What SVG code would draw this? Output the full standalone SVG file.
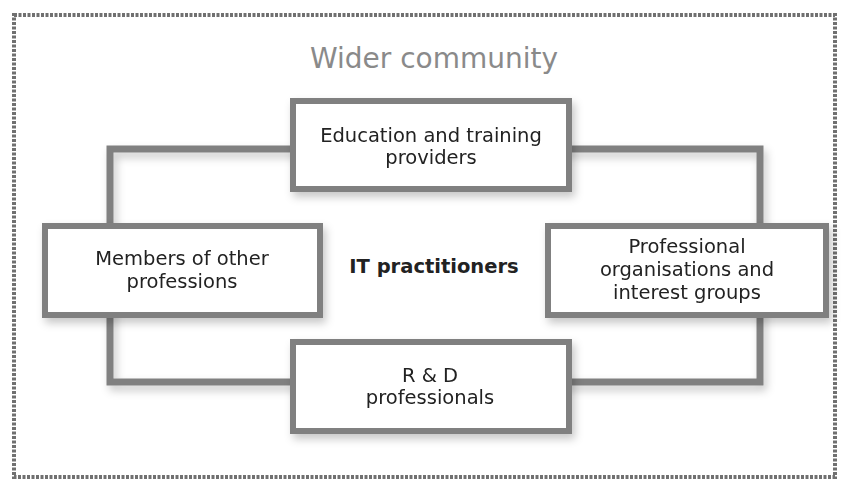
<svg xmlns="http://www.w3.org/2000/svg" width="847" height="495" viewBox="0 0 847 495">
  <defs>
    <filter id="shadow" x="-10%" y="-20%" width="125%" height="150%">
      <feDropShadow dx="3" dy="5" stdDeviation="4" flood-color="#000" flood-opacity="0.22"/>
    </filter>
  </defs>
  <style>
    .frame { fill: none; stroke: #707070; stroke-width: 4; stroke-dasharray: 3 1.5; }
    .link { fill: none; stroke: #808080; stroke-width: 7; }
    .box { fill: #fff; stroke: #808080; stroke-width: 6; }
    .label { font-family: "DejaVu Sans", "Liberation Sans", sans-serif; font-size: 19.5px; fill: #222; text-anchor: middle; }
    .title { font-family: "DejaVu Sans", "Liberation Sans", sans-serif; font-size: 28px; fill: #8a8a8a; text-anchor: middle; }
    .centre { font-family: "DejaVu Sans", "Liberation Sans", sans-serif; font-size: 19.5px; font-weight: bold; fill: #222; text-anchor: middle; }
  </style>

  <rect width="847" height="495" fill="#fff"/>

  <!-- community boundary -->
  <rect class="frame" x="14" y="15" width="821" height="462"/>
  <text class="title" x="434" y="68">Wider community</text>

  <!-- ring linking the four groups -->
  <g id="connectors" filter="url(#shadow)">
    <rect class="link" x="110" y="149" width="650" height="233"/>
  </g>

  <g id="education" filter="url(#shadow)">
    <rect class="box" x="293" y="101" width="276" height="88"/>
    <text class="label" x="431" y="142">Education and training</text>
    <text class="label" x="431" y="164">providers</text>
  </g>

  <g id="other-professions" filter="url(#shadow)">
    <rect class="box" x="45" y="226" width="275" height="89"/>
    <text class="label" x="182" y="265">Members of other</text>
    <text class="label" x="182" y="288">professions</text>
  </g>

  <g id="professional-orgs" filter="url(#shadow)">
    <rect class="box" x="548" y="226" width="278" height="89"/>
    <text class="label" x="687" y="253">Professional</text>
    <text class="label" x="687" y="276">organisations and</text>
    <text class="label" x="687" y="299">interest groups</text>
  </g>

  <g id="rnd" filter="url(#shadow)">
    <rect class="box" x="293" y="342" width="276" height="89"/>
    <text class="label" x="430" y="382">R &amp; D</text>
    <text class="label" x="430" y="404">professionals</text>
  </g>

  <g id="it-practitioners">
    <text class="centre" x="434" y="273">IT practitioners</text>
  </g>
</svg>
